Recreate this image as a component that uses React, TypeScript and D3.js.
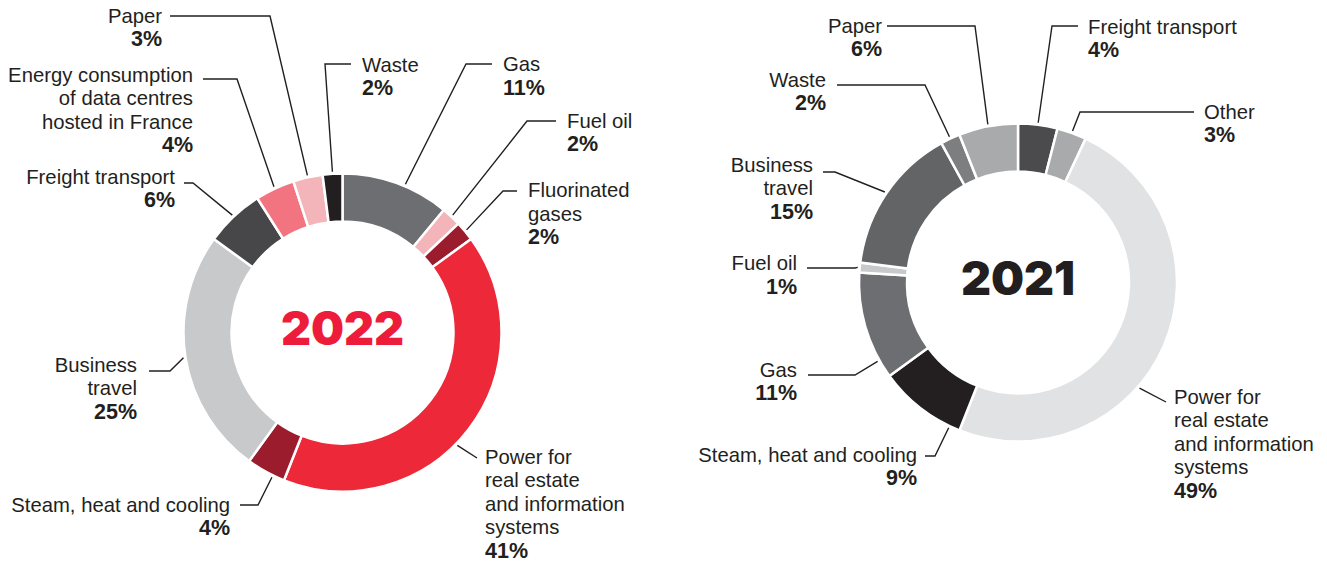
import * as d3 from "d3";

// 2022 breakdown (clockwise from 12 o'clock)
const cats2022 = [
  "Gas",
  "Fuel oil",
  "Fluorinated gases",
  "Power for real estate and information systems",
  "Steam, heat and cooling",
  "Business travel",
  "Freight transport",
  "Energy consumption of data centres hosted in France",
  "Paper",
  "Waste",
];
const values2022 = [11, 2, 2, 41, 4, 25, 6, 4, 3, 2];
const colors2022 = [
  "#6d6e71", "#f4b5ba", "#9b1d2d", "#ed2839", "#9b1d2d",
  "#c8c9cb", "#474749", "#f27480", "#f4b5ba", "#231f20",
];
const lines2022 = [
  ["Gas"],
  ["Fuel oil"],
  ["Fluorinated", "gases"],
  ["Power for", "real estate", "and information", "systems"],
  ["Steam, heat and cooling"],
  ["Business", "travel"],
  ["Freight transport"],
  ["Energy consumption", "of data centres", "hosted in France"],
  ["Paper"],
  ["Waste"],
];

// 2021 breakdown
const cats2021 = [
  "Freight transport",
  "Other",
  "Power for real estate and information systems",
  "Steam, heat and cooling",
  "Gas",
  "Fuel oil",
  "Business travel",
  "Waste",
  "Paper",
];
const values2021 = [4, 3, 49, 9, 11, 1, 15, 2, 6];
const colors2021 = [
  "#4b4b4d", "#a9aaac", "#e1e2e3", "#231f20", "#6d6e71",
  "#c8c9cb", "#636466", "#7d7e80", "#a9aaac",
];
const lines2021 = [
  ["Freight transport"],
  ["Other"],
  ["Power for", "real estate", "and information", "systems"],
  ["Steam, heat and cooling"],
  ["Gas"],
  ["Fuel oil"],
  ["Business", "travel"],
  ["Waste"],
  ["Paper"],
];

// label layout: text x, anchor, first baseline, leader y, leader start x, elbow x, optional angle (deg)
type Lab = { x: number; a: "start" | "end"; y: number; ly: number; lx: number; ex: number; ang?: number };
const layout2022: Lab[] = [
  { x: 503, a: "start", y: 71, ly: 64, lx: 492, ex: 466, ang: 23 },
  { x: 567, a: "start", y: 127.5, ly: 121, lx: 556, ex: 527 },
  { x: 528, a: "start", y: 197, ly: 191, lx: 517, ex: 503 },
  { x: 485, a: "start", y: 463.5, ly: 458, lx: 477, ex: 477, ang: 134.5 },
  { x: 230, a: "end", y: 511.5, ly: 505, lx: 240, ex: 258, ang: 206 },
  { x: 137, a: "end", y: 371.5, ly: 371, lx: 149, ex: 170 },
  { x: 175, a: "end", y: 183.5, ly: 183, lx: 184, ex: 193 },
  { x: 193, a: "end", y: 81.5, ly: 79, lx: 203, ex: 237 },
  { x: 162, a: "end", y: 22.5, ly: 16, lx: 170, ex: 270 },
  { x: 362, a: "start", y: 71.5, ly: 64, lx: 351, ex: 325 },
];
const layout2021: Lab[] = [
  { x: 1088, a: "start", y: 33.5, ly: 26, lx: 1078, ex: 1052 },
  { x: 1204, a: "start", y: 118.5, ly: 112, lx: 1194, ex: 1080 },
  { x: 1174, a: "start", y: 403.5, ly: 402, lx: 1166, ex: 1166, ang: 131 },
  { x: 917, a: "end", y: 461.5, ly: 456, lx: 925, ex: 935, ang: 205.5 },
  { x: 797, a: "end", y: 376.5, ly: 375, lx: 808, ex: 855, ang: 240.7 },
  { x: 797, a: "end", y: 270, ly: 268, lx: 807, ex: 855 },
  { x: 813, a: "end", y: 171.5, ly: 172, lx: 823, ex: 835 },
  { x: 826, a: "end", y: 86.5, ly: 85, lx: 837, ex: 925 },
  { x: 882, a: "end", y: 32.5, ly: 26, lx: 887, ex: 975 },
];

const W = 1327;
const H = 565;
const R_OUT = 159;
const R_IN = 111;
const LH = 23.6;
const FONT = "'Liberation Sans', Arial, sans-serif";
const INK = "#231f20";

function Donut(props: {
  cx: number; cy: number; cats: string[]; values: number[]; colors: string[];
  lines: string[][]; layout: Lab[]; year: string; yearColor: string;
}) {
  const { cx, cy, cats, values, colors, lines, layout, year, yearColor } = props;
  const pie = d3.pie<number>().sort(null).value((d) => d);
  const arcs = pie(values);
  const arc = d3.arc<d3.PieArcDatum<number>>().innerRadius(R_IN).outerRadius(R_OUT);

  return (
    <g>
      <g transform={`translate(${cx},${cy})`}>
        {arcs.map((a, i) => (
          <path key={cats[i]} d={arc(a) || ""} fill={colors[i]} stroke="#fff" strokeWidth={2.5} />
        ))}
      </g>
      {arcs.map((a, i) => {
        const l = layout[i];
        const ang = l.ang !== undefined ? (l.ang * Math.PI) / 180 : (a.startAngle + a.endAngle) / 2;
        const r = R_OUT + 2;
        const px = cx + r * Math.sin(ang);
        const py = cy - r * Math.cos(ang);
        const pts: [number, number][] = [[l.lx, l.ly], [l.ex, l.ly], [px, py]];
        const txt = lines[i];
        return (
          <g key={"lab" + i}>
            <path d={d3.line()(pts) || ""} fill="none" stroke={INK} strokeWidth={1.4} />
            <text x={l.x} textAnchor={l.a} fontFamily={FONT} fontSize={20.3} fill={INK}>
              {txt.map((t, j) => (
                <tspan key={j} x={l.x} y={l.y + j * LH}>{t}</tspan>
              ))}
              <tspan x={l.x} y={l.y + txt.length * LH} fontWeight="bold" fontSize={21.5}>{values[i]}%</tspan>
            </text>
          </g>
        );
      })}
      <text x={cx} y={cy + 12.5} textAnchor="middle" fontFamily="Inter, 'Liberation Sans', sans-serif"
        fontWeight={900} fontSize={46.5} fill={yearColor}>{year}</text>
    </g>
  );
}

export default function App() {
  return (
    <svg width={W} height={H} style={{ position: "absolute", left: 0, top: 0, background: "#fff" }}>
      <Donut cx={342.5} cy={332.5} cats={cats2022} values={values2022} colors={colors2022}
        lines={lines2022} layout={layout2022} year="2022" yearColor="#ed1c3a" />
      <Donut cx={1018} cy={282.5} cats={cats2021} values={values2021} colors={colors2021}
        lines={lines2021} layout={layout2021} year="2021" yearColor={INK} />
    </svg>
  );
}
